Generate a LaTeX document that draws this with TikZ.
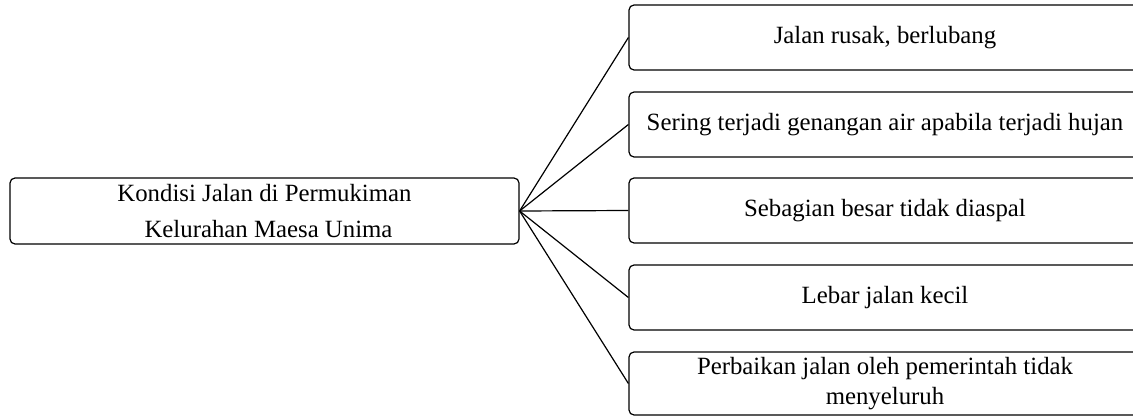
\documentclass[tikz,border=0pt]{standalone}
\usepackage{fontspec}
\setmainfont{Liberation Serif}
\begin{document}
\begin{tikzpicture}[x=1pt,y=-1pt,
  box/.style={draw, rounded corners=5pt, line width=1.2pt, inner sep=0pt, align=center,
    font=\fontsize{24.8}{36}\selectfont},
  rbox/.style={box, minimum width=512pt, minimum height=65pt},
  conn/.style={line width=1.2pt}]
\useasboundingbox (0,0) rectangle (1133,417);
\node[box, minimum width=509pt, minimum height=66pt] (L) at (264.5,211)
  {Kondisi Jalan di Permukiman\\\hspace*{8pt}Kelurahan Maesa Unima};
\node[rbox] (B1) at (885,37.5) {Jalan rusak, berlubang};
\node[rbox] (B2) at (885,124.5) {Sering terjadi genangan air apabila terjadi hujan};
\node[rbox] (B3) at (885,210.5) {Sebagian besar tidak diaspal};
\node[rbox] (B4) at (885,297.5) {Lebar jalan kecil};
\node[rbox, minimum height=63pt, font=\fontsize{24.8}{30}\selectfont] (B5) at (885,383.5)
  {Perbaikan jalan oleh pemerintah tidak\\menyeluruh};
\foreach \b in {B1,B2,B3,B4,B5}
  \draw[conn] (L.east) -- (\b.west);
\end{tikzpicture}
\end{document}
